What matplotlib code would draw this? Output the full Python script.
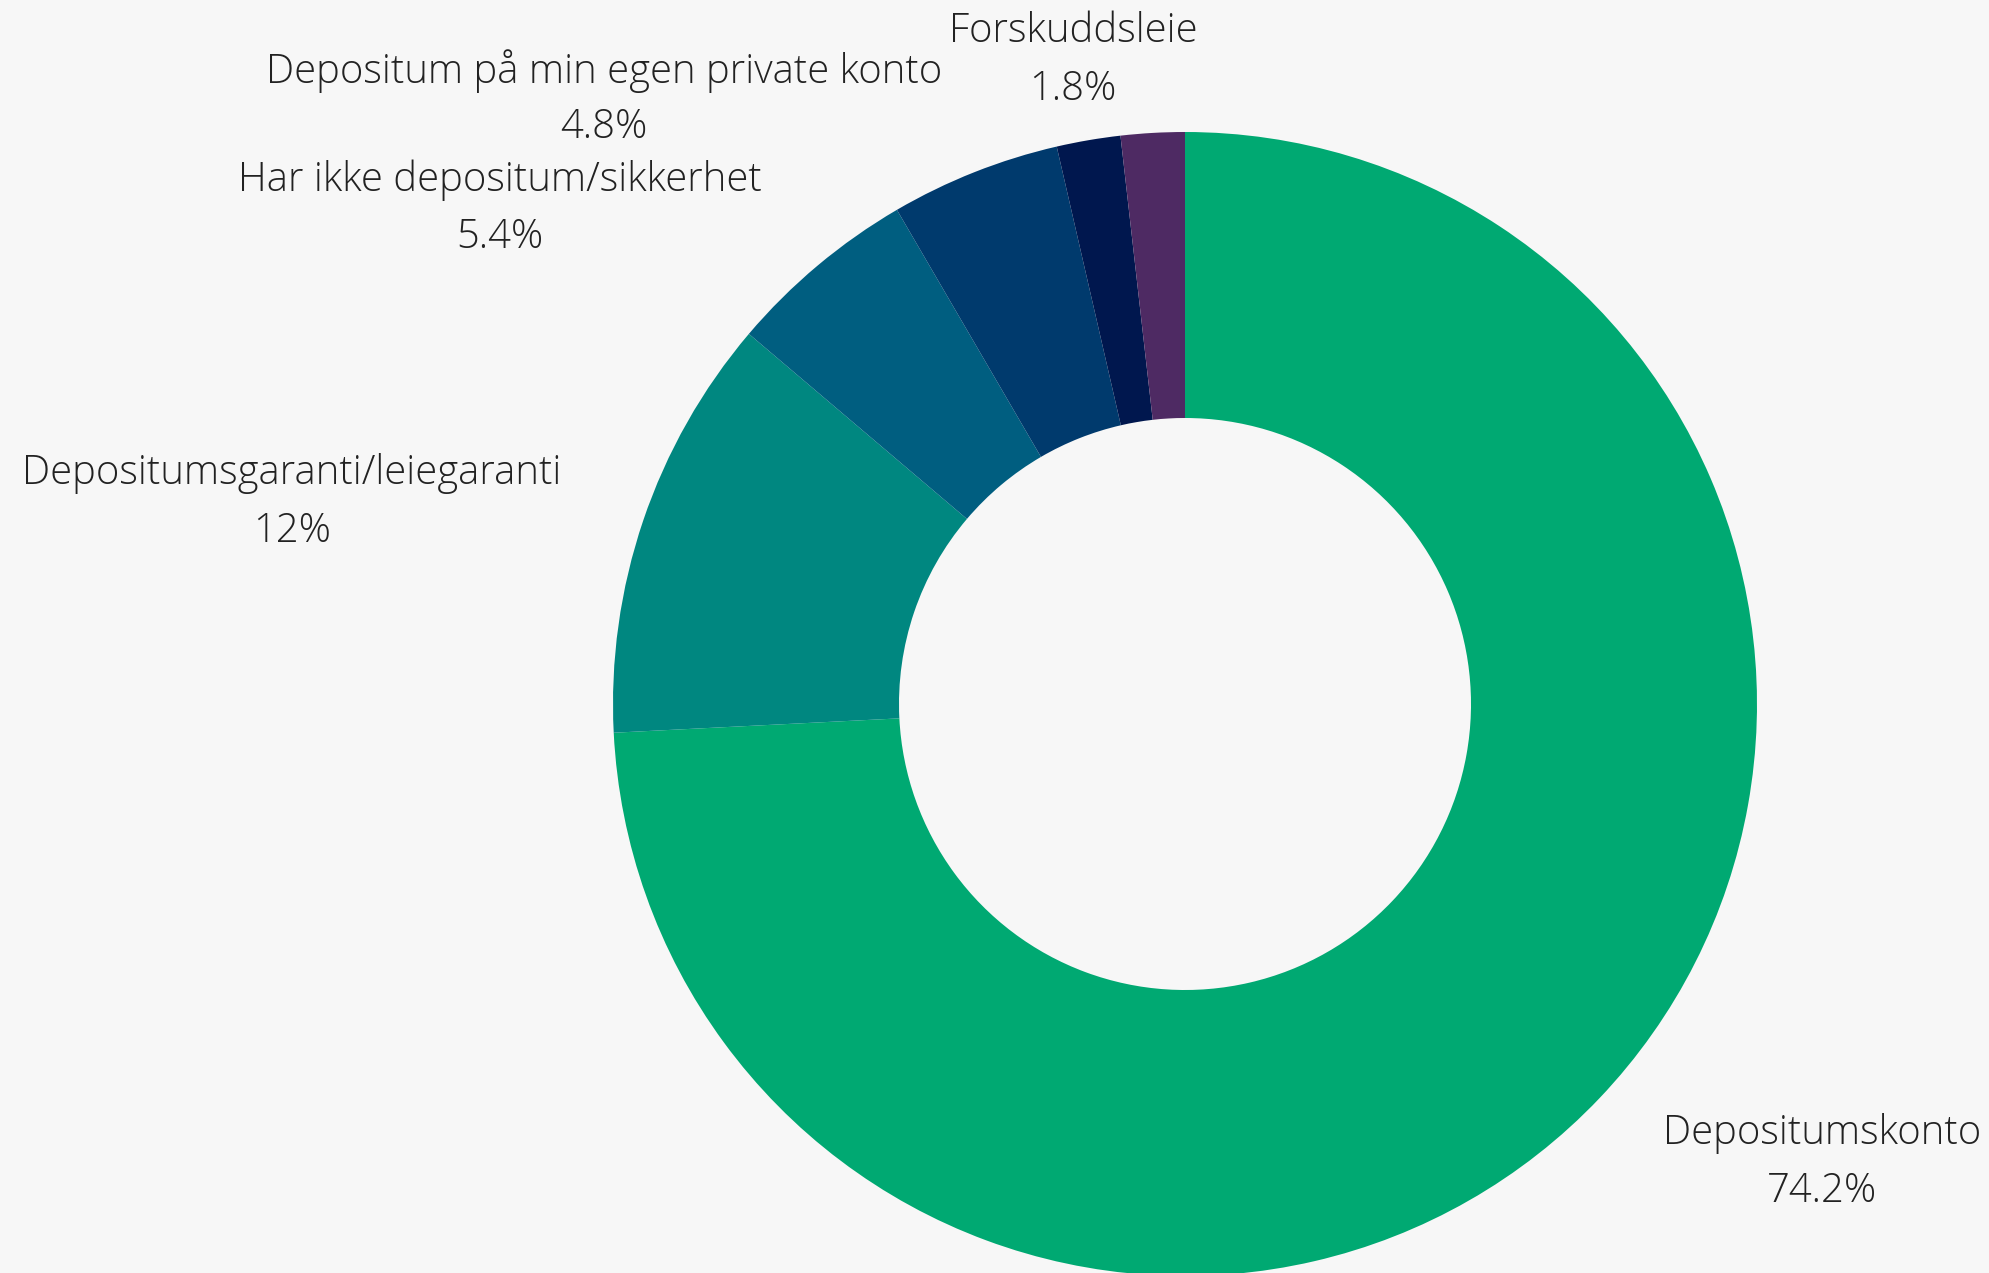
import matplotlib.pyplot as plt

# share of answers per deposit type
categories = ['Depositumskonto', 'Depositumsgaranti/leiegaranti',
              'Har ikke depositum/sikkerhet', 'Depositum på min egen private konto',
              'Annet', 'Forskuddsleie']
shares = [74.2, 12.0, 5.4, 4.8, 1.8, 1.8]
pct_labels = ['74.2%', '12%', '5.4%', '4.8%', '', '1.8%']
colors = ['#00A972', '#008780', '#005E80', '#003A6D', '#00174E', '#4E2A63']

W, H = 1990, 1273
bg = '#F7F7F7'

fig = plt.figure(figsize=(W / 100, H / 100), dpi=100, facecolor=bg)
ax = fig.add_axes([0, 0, 1, 1])
ax.set_facecolor(bg)

# work in pixel units so the donut sits where we want it
cx, cy, r = 1185, H - 704, 572
ax.pie(shares, colors=colors, startangle=90, counterclock=False,
       center=(cx, cy), radius=r, frame=True,
       wedgeprops=dict(width=r * 0.5, linewidth=0))
ax.set_xlim(0, W)
ax.set_ylim(0, H)
ax.set_aspect('equal')
ax.axis('off')

# outside label positions (x, y of first line, from top)
label_pos = [(1822, 1134), (292, 474), (500, 180), (604, 71), None, (1073, 32)]
for name, pct, pos in zip(categories, pct_labels, label_pos):
    if pos is None:
        continue
    x, y = pos
    ax.text(x, H - y, name, ha='center', va='center', fontsize=28.8,
            family='Open Sans', fontweight='light', color='#222222')
    ax.text(x, H - y - 57, pct, ha='center', va='center', fontsize=28.8,
            family='Open Sans', fontweight='light', color='#222222')

fig.savefig('out.png', dpi=100, facecolor=bg)
